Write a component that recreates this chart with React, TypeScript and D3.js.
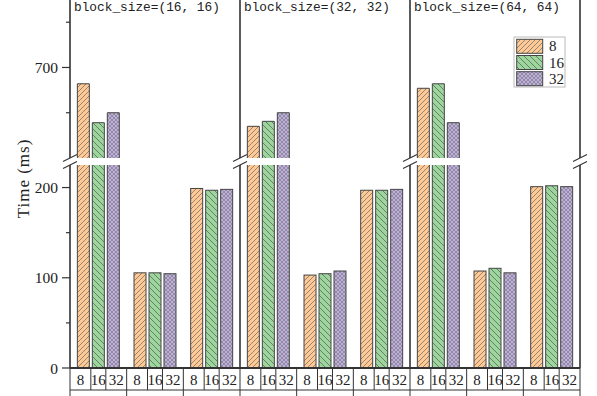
import React from "react";
import * as d3 from "d3";

// three panels, each with three groups of bars (8 / 16 / 32)
const panelTitles = ["block_size=(16, 16)", "block_size=(32, 32)", "block_size=(64, 64)"];
const groupIds = ["a1", "a2", "a3", "b1", "b2", "b3", "c1", "c2", "c3"];
const seriesNames = ["8", "16", "32"];
const values8 = [682, 105.5, 199, 635, 103, 197, 677, 107.5, 201];
const values16 = [639, 105.5, 197, 640.5, 104.5, 197, 682, 110.5, 202];
const values32 = [650, 104.5, 198, 650, 107.5, 198, 639, 105.5, 201];
const lowTicks = [0, 100, 200];
const lowMinor = [50, 150];
const highTicks = [700];
const highMinor = [650, 750];

const W = 597, H = 396;
const left = 70, right = 580, bottom = 368, top = -14;
const gapTop = 158, gapBottom = 165;
const breakLow = 225, breakHigh = 600, upperMax = 790;

const fills = ["url(#hatchOrange)", "url(#hatchGreen)", "url(#hatchPurple)"];
const font = "'Liberation Serif', serif";

export default function App() {
  const x0 = d3.scaleBand().domain(groupIds).range([left, right]).padding(0);
  const x1 = d3.scaleBand().domain(seriesNames).range([0, x0.bandwidth()])
    .paddingInner(0.2).paddingOuter(0.49);
  const yLow = d3.scaleLinear().domain([0, breakLow]).range([bottom, gapBottom]);
  const yHigh = d3.scaleLinear().domain([breakHigh, upperMax]).range([gapTop, top]);
  const allValues = [values8, values16, values32];
  const w = x1.bandwidth();

  const bars: any[] = [];
  groupIds.forEach((g, i) => {
    seriesNames.forEach((s, k) => {
      const v = allValues[k][i];
      const x = x0(g)! + x1(s)!;
      const key = g + s;
      if (v <= breakLow) {
        const yt = yLow(v);
        bars.push(<rect key={key} x={x} y={yt} width={w} height={bottom - yt}
          fill={fills[k]} stroke="#444" strokeWidth={1} />);
      } else {
        const yt = yHigh(v);
        bars.push(<g key={key}>
          <rect x={x} y={gapBottom} width={w} height={bottom - gapBottom} fill={fills[k]} />
          <path d={`M${x},${bottom}V${gapBottom}M${x + w},${gapBottom}V${bottom}`} stroke="#444" fill="none" />
          <rect x={x} y={yt} width={w} height={gapTop - yt} fill={fills[k]} />
          <path d={`M${x},${gapTop}V${yt}H${x + w}V${gapTop}`} stroke="#444" fill="none" />
        </g>);
      }
    });
  });

  // vertical frame lines: left axis, panel dividers, right edge
  const frameX = [0, 3, 6, 9].map(i => i < 9 ? x0(groupIds[i])! : right);

  // label-row cell borders
  const cellLines: number[] = [];
  groupIds.forEach(g => {
    const centers = seriesNames.map(s => x0(g)! + x1(s)! + w / 2);
    cellLines.push(x0(g)!, (centers[0] + centers[1]) / 2, (centers[1] + centers[2]) / 2);
  });
  cellLines.push(right);

  return (
    <svg width={W} height={H} style={{ position: "absolute", left: 0, top: 0 }}>
      <defs>
        <pattern id="hatchOrange" patternUnits="userSpaceOnUse" width={5} height={5}>
          <rect width={5} height={5} fill="#FFC995" />
          <path d="M0,5L5,0M-1,1L1,-1M4,6L6,4" stroke="#666" strokeWidth={0.7} />
        </pattern>
        <pattern id="hatchGreen" patternUnits="userSpaceOnUse" width={6} height={6}>
          <rect width={6} height={6} fill="#9DD69D" />
          <path d="M0,0L6,6M-1,5L1,7M5,-1L7,1" stroke="#555" strokeWidth={0.7} />
        </pattern>
        <pattern id="hatchPurple" patternUnits="userSpaceOnUse" width={4} height={4}>
          <rect width={4} height={4} fill="#BEAFDC" />
          <path d="M0,0L4,4M0,4L4,0" stroke="#666" strokeWidth={0.5} />
        </pattern>
      </defs>
      <rect width={W} height={H} fill="white" />

      {bars}

      {/* frame lines with break gap */}
      {frameX.map((fx, i) => (
        <g key={"f" + i} stroke="#333" strokeWidth={1.6}>
          <line x1={fx} x2={fx} y1={bottom} y2={gapBottom} />
          <line x1={fx} x2={fx} y1={gapTop} y2={top} />
          <line x1={fx - 7} x2={fx + 7} y1={gapTop + 3.5} y2={gapTop - 3.5} strokeWidth={1.2} />
          <line x1={fx - 7} x2={fx + 7} y1={gapBottom + 3.5} y2={gapBottom - 3.5} strokeWidth={1.2} />
        </g>
      ))}
      <line x1={left} x2={right} y1={top} y2={top} stroke="#333" strokeWidth={1.6} />

      {/* y ticks */}
      {lowTicks.map(t => (
        <g key={"lt" + t}>
          <line x1={left - 8} x2={left} y1={yLow(t)} y2={yLow(t)} stroke="#333" strokeWidth={1.2} />
          <text x={left - 12} y={yLow(t)} textAnchor="end" dominantBaseline="central"
            fontFamily={font} fontSize={15.5} fill="#222">{t}</text>
        </g>
      ))}
      {lowMinor.map(t => (
        <line key={"lm" + t} x1={left - 4} x2={left} y1={yLow(t)} y2={yLow(t)} stroke="#333" strokeWidth={1.2} />
      ))}
      {highTicks.map(t => (
        <g key={"ht" + t}>
          <line x1={left - 8} x2={left} y1={yHigh(t)} y2={yHigh(t)} stroke="#333" strokeWidth={1.2} />
          <text x={left - 12} y={yHigh(t)} textAnchor="end" dominantBaseline="central"
            fontFamily={font} fontSize={15.5} fill="#222">{t}</text>
        </g>
      ))}
      {highMinor.map(t => (
        <line key={"hm" + t} x1={left - 4} x2={left} y1={yHigh(t)} y2={yHigh(t)} stroke="#333" strokeWidth={1.2} />
      ))}

      <text transform="translate(23,178.5) rotate(-90)" textAnchor="middle" dominantBaseline="central"
        fontFamily={font} fontSize={17} letterSpacing={1} fill="#222">Time (ms)</text>

      {/* panel titles */}
      {panelTitles.map((t, i) => (
        <text key={t} x={frameX[i] + 4} y={10.5} fontFamily="'Liberation Mono', monospace"
          fontSize={12.8} fill="#222">{t}</text>
      ))}

      {/* x axis line and label table */}
      <line x1={left} x2={right} y1={bottom} y2={bottom} stroke="#333" strokeWidth={2} />
      <line x1={left} x2={right} y1={390} y2={390} stroke="#333" strokeWidth={1} />
      {cellLines.map((cx, i) => (
        <line key={"c" + i} x1={cx} x2={cx} y1={bottom} y2={390} stroke="#333" strokeWidth={1} />
      ))}
      {groupIds.map(g => (
        <line key={"r2" + g} x1={x0(g)!} x2={x0(g)!} y1={390} y2={H} stroke="#333" strokeWidth={1} />
      ))}
      <line x1={right} x2={right} y1={390} y2={H} stroke="#333" strokeWidth={1} />
      {groupIds.map((g, gi) => seriesNames.map((s, k) => {
        const a = cellLines[gi * 3 + k], b = cellLines[gi * 3 + k + 1];
        return <text key={"l" + g + s} x={(a + b) / 2} y={385} textAnchor="middle"
          fontFamily={font} fontSize={15} fill="#222">{s}</text>;
      }))}

      {/* legend */}
      <rect x={514} y={37} width={51} height={50} fill="white" stroke="#bbb" strokeWidth={1} />
      {seriesNames.map((s, k) => (
        <g key={"lg" + s}>
          <rect x={516.7} y={39.3 + k * 16.2} width={26} height={14} fill={fills[k]} stroke="#444" strokeWidth={1} />
          <text x={549} y={46.3 + k * 16.2} dominantBaseline="central" fontFamily={font}
            fontSize={15} fill="#222">{s}</text>
        </g>
      ))}
    </svg>
  );
}
